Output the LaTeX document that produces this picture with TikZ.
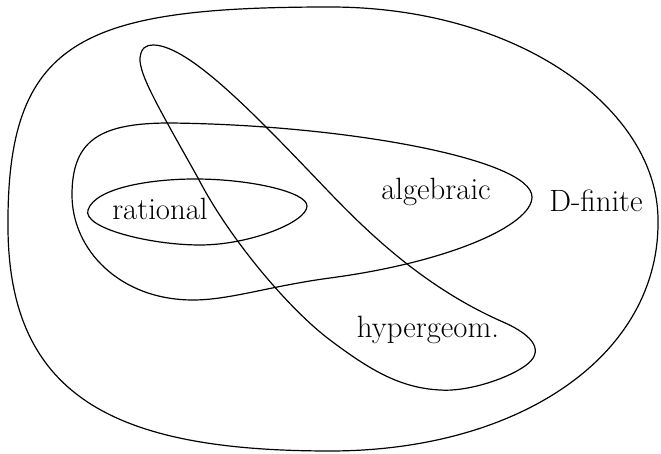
\documentclass[tikz,border=0pt]{standalone}
\usepackage{amsmath,amssymb}
\usepackage{tikz}

\tikzset{setlabel/.style={anchor=base,inner sep=0pt,font=\fontsize{15.4}{18}\selectfont}}

\begin{document}
\begin{tikzpicture}[x=0.5pt,y=-0.5pt,line width=0.6pt]
	  \useasboundingbox (0,0) rectangle (661,454);
	  % D-finite
	  \draw (330,7) .. controls (520,7) and (658,110) .. (658,220)
	        .. controls (660,355) and (520,451) .. (330,451)
	        .. controls (120,451) and (10,400) .. (8,230)
	        .. controls (6,40) and (80,7) .. cycle;
	  % algebraic
	  \draw (170,123) .. controls (350,125) and (532,160) .. (532,197)
	        .. controls (532,225) and (450,262) .. (330,278)
	        .. controls (270,286) and (230,300) .. (193,300)
	        .. controls (120,300) and (72,250) .. (72,195)
	        .. controls (72,140) and (100,123) .. cycle;
	  % rational
	  \draw (88,210) .. controls (95,188) and (150,179) .. (195,179)
	        .. controls (250,179) and (307,192) .. (307,206)
	        .. controls (307,222) and (250,245) .. (200,245)
	        .. controls (150,245) and (82,228) .. cycle;
	  % hypergeometric
	  \draw (153,45) .. controls (190,45) and (260,120) .. (330,193)
	        .. controls (375,240) and (430,290) .. (503,322)
	        .. controls (535,336) and (545,352) .. (525,366)
	        .. controls (505,380) and (465,392) .. (440,390)
	        .. controls (400,388) and (370,370) .. (330,340)
	        .. controls (290,310) and (230,240) .. (198,178)
	        .. controls (160,110) and (139,75) .. (140,58)
	        .. controls (141,48) and (146,45) .. cycle;
	  \node[setlabel] (rat) at (160,220) {rational};
	  \node[setlabel] (alg) at (436,200) {algebraic};
	  \node[setlabel] (dfin) at (596,212) {D-finite};
	  \node[setlabel] (hyp) at (428,338) {hypergeom.};
	\end{tikzpicture}
\end{document}
